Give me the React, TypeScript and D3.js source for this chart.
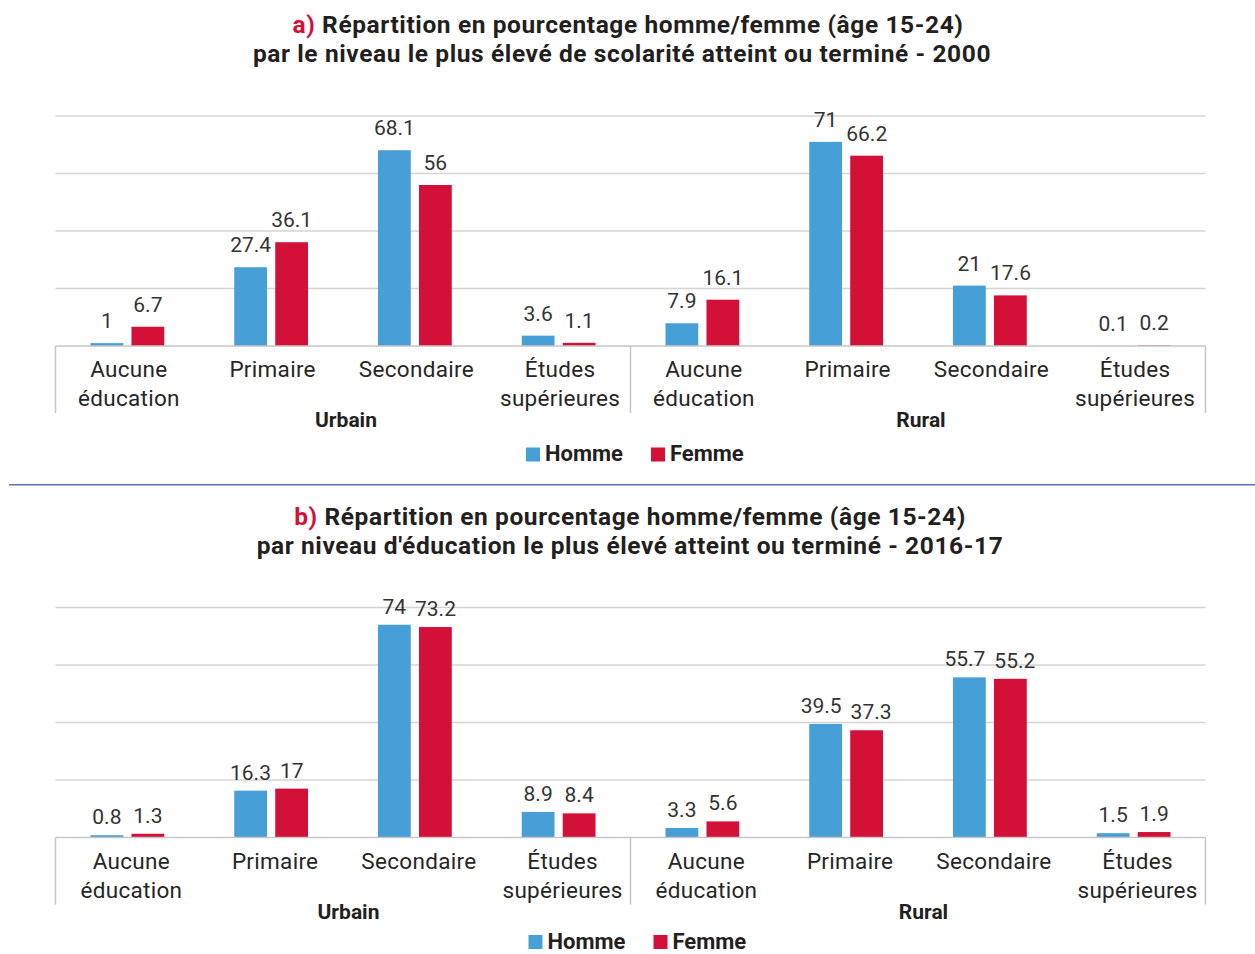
import React from "react";
import * as d3 from "d3";

const categories = ["Aucune éducation", "Primaire", "Secondaire", "Études supérieures"];
const groups = ["Urbain", "Rural"];
const seriesNames = ["Homme", "Femme"];
const yTicks = [0, 20, 40, 60, 80];

// Chart a) 2000
const homme2000 = [1, 27.4, 68.1, 3.6, 7.9, 71, 21, 0.1];
const femme2000 = [6.7, 36.1, 56, 1.1, 16.1, 66.2, 17.6, 0.2];
// Chart b) 2016-17
const homme2016 = [0.8, 16.3, 74, 8.9, 3.3, 39.5, 55.7, 1.5];
const femme2016 = [1.3, 17, 73.2, 8.4, 5.6, 37.3, 55.2, 1.9];

const titleA1 = "Répartition en pourcentage homme/femme (âge 15-24)";
const titleA2 = "par le niveau le plus élevé de scolarité atteint ou terminé - 2000";
const titleB1 = "Répartition en pourcentage homme/femme (âge 15-24)";
const titleB2 = "par niveau d'éducation le plus élevé atteint ou terminé - 2016-17";

const BLUE = "#479fd8";
const RED = "#d31037";
const TEXT = "#231f20";
const FONT = "Roboto, 'Noto Sans', sans-serif";
const LABEL_FS = 21;

const splitLabel = (c: string) => {
  const parts = c.split(" ");
  return parts.length > 1 ? [parts[0], parts.slice(1).join(" ")] : [c];
};

const labelWidth = (s: string) =>
  s.split("").reduce((acc, ch) => acc + (ch === "." ? 0.26 : 0.562), 0) * LABEL_FS;

interface ChartProps {
  dy: number;
  prefix: string;
  t1: string;
  t2: string;
  homme: number[];
  femme: number[];
  labelGap: number;
  tx: number;
  t1x: number;
  t2x: number;
  legendDy: number;
}

function Chart({ dy, prefix, t1, t2, homme, femme, labelGap, tx, t1x, t2x, legendDy }: ChartProps) {
  const left = 55.5;
  const right = 1205.5;
  const base = 346 + dy;
  const top = 116 + dy;
  const allCats: string[] = [];
  groups.forEach((g) => categories.forEach((c) => allCats.push(g + "|" + c)));
  const x0 = d3.scaleBand<string>().domain(allCats).range([left, right]).padding(0);
  const x1 = d3.scaleBand<string>().domain(seriesNames).range([0, 73.8]).paddingInner(0.2);
  const y = d3.scaleLinear().domain([0, 80]).range([base, top]);
  const gx = d3.scaleBand<string>().domain(groups).range([left, right]);
  const series = [
    { name: "Homme", values: homme, color: BLUE },
    { name: "Femme", values: femme, color: RED },
  ];
  const off = x0.bandwidth() / 2 - 36.9;
  const fmt = (v: number) => String(v);

  // label positions with simple collision avoidance between the pair
  const labels = allCats.map((c, i) => {
    const pos = series.map((s) => {
      const bx = (x0(c) as number) + off + (x1(s.name) as number);
      const text = fmt(s.values[i]);
      return { x: bx + x1.bandwidth() / 2, y: y(s.values[i]) - labelGap, text, w: labelWidth(text) };
    });
    const [a, b] = pos;
    if (Math.abs(a.y - b.y) < 18) {
      const overlap = a.x + a.w / 2 + 9 - (b.x - b.w / 2);
      if (overlap > 0) {
        a.x -= overlap / 2;
        b.x += overlap / 2;
      }
    }
    return pos;
  });

  return (
    <g>
      <text x={t1x} y={33 + dy} textAnchor="middle" fontFamily={FONT} fontWeight={700} fontSize={24.5} letterSpacing={0.6} fill={TEXT}>
        <tspan fill={RED}>{prefix}</tspan>
        <tspan> {t1}</tspan>
      </text>
      <text x={t2x} y={62 + dy} textAnchor="middle" fontFamily={FONT} fontWeight={700} fontSize={24.5} letterSpacing={0.6} fill={TEXT}>
        {t2}
      </text>
      {yTicks.slice(1).map((t) => (
        <line key={t} x1={left} x2={right} y1={y(t)} y2={y(t)} stroke="#d4d4d4" strokeWidth={1.3} />
      ))}
      {series.map((s) =>
        s.values.map((v, i) => {
          const bx = (x0(allCats[i]) as number) + off + (x1(s.name) as number);
          return <rect key={s.name + i} x={bx} y={y(v)} width={x1.bandwidth()} height={base - y(v)} fill={s.color} />;
        })
      )}
      {labels.map((pair, i) =>
        pair.map((l, k) => (
          <text key={i + "-" + k} x={l.x} y={l.y} textAnchor="middle" fontFamily={FONT} fontSize={LABEL_FS} fill="#333">
            {l.text}
          </text>
        ))
      )}
      <line x1={left} x2={right} y1={base} y2={base} stroke="#c6c6c6" strokeWidth={1.5} />
      {[left, gx("Rural") as number, right].map((xv, i) => (
        <line key={i} x1={xv} x2={xv} y1={base} y2={base + 67} stroke="#c6c6c6" strokeWidth={1.5} />
      ))}
      {allCats.map((c) => {
        const lines = splitLabel(c.split("|")[1]);
        const cx = (x0(c) as number) + x0.bandwidth() / 2 + tx;
        return (
          <text key={c} textAnchor="middle" fontFamily={FONT} fontSize={22.5} fill="#262626" letterSpacing={0.3}>
            {lines.map((l, k) => (
              <tspan key={k} x={cx} y={base + 31 + k * 29}>
                {l}
              </tspan>
            ))}
          </text>
        );
      })}
      {groups.map((g) => (
        <text
          key={g}
          x={(gx(g) as number) + gx.bandwidth() / 2 + tx + 1.5}
          y={base + 81}
          textAnchor="middle"
          fontFamily={FONT}
          fontWeight={700}
          fontSize={21}
          fill={TEXT}
        >
          {g}
        </text>
      ))}
      {series.map((s, i) => {
        const lx = 526 + tx - 1.5 + i * 125;
        return (
          <g key={s.name}>
            <rect x={lx} y={447.5 + dy + legendDy} width={14} height={14} fill={s.color} />
            <text x={lx + 19} y={461 + dy + legendDy} fontFamily={FONT} fontWeight={700} fontSize={22} fill={TEXT}>
              {s.name}
            </text>
          </g>
        );
      })}
    </g>
  );
}

export default function App() {
  return (
    <svg width={1255} height={954} style={{ position: "absolute", left: 0, top: 0, background: "#fff" }}>
      <rect x={0} y={0} width={1255} height={954} fill="#fff" />
      <Chart dy={0} prefix="a)" t1={titleA1} t2={titleA2} homme={homme2000} femme={femme2000} labelGap={15} tx={1.5} t1x={628} t2x={622} legendDy={0} />
      <line x1={9} x2={1255} y1={484.7} y2={484.7} stroke="#5a72b5" strokeWidth={1.5} />
      <Chart dy={491.5} prefix="b)" t1={titleB1} t2={titleB2} homme={homme2016} femme={femme2016} labelGap={11} tx={4} t1x={630} t2x={630} legendDy={-4} />
    </svg>
  );
}
